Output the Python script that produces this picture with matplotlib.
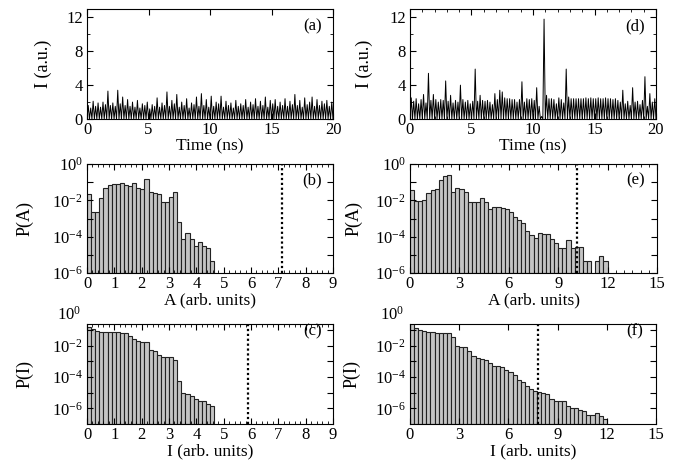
import numpy as np
import matplotlib.pyplot as plt
from matplotlib.ticker import MultipleLocator, NullLocator

plt.rcParams['font.family'] = ['Liberation Serif', 'DejaVu Serif']
plt.rcParams['mathtext.fontset'] = 'stix'
plt.rcParams['font.size'] = 13

# ---- data ----
pulse_dt = 0.2  # ns between pulses

# peak intensities, panel (a)
peaks_a = [1.6, 1.3, 2.1, 1.5, 1.9, 1.4, 2.0, 1.7, 3.3, 1.6,
           1.9, 1.5, 3.4, 1.8, 2.6, 1.6, 2.3, 1.5, 2.0, 1.4,
           2.2, 1.3, 1.8, 1.6, 2.0, 1.2, 1.7, 1.5, 2.5, 1.4,
           1.9, 1.6, 3.2, 1.5, 2.2, 1.8, 2.9, 1.4, 2.0, 1.6,
           2.4, 1.3, 1.9, 1.7, 2.6, 1.5, 3.0, 1.6, 2.3, 1.4,
           2.7, 1.5, 2.0, 1.8, 2.7, 1.4, 2.1, 1.6, 1.9, 1.3,
           2.2, 1.5, 1.8, 1.6, 2.3, 1.4, 2.0, 1.7, 2.4, 1.5,
           2.1, 1.6, 2.6, 1.4, 2.2, 1.8, 2.3, 1.5, 2.0, 1.6,
           2.4, 1.5, 2.1, 1.7, 2.9, 1.6, 2.2, 1.4, 2.5, 1.7,
           2.0, 2.6, 1.5, 2.3, 1.6, 2.1, 1.8, 2.2, 1.5, 2.0]

# peak intensities, panel (d)
peaks_d = [2.5, 2.1, 2.4, 1.8, 2.3, 2.9, 1.9, 5.4, 2.2, 2.9,
           2.3, 2.0, 2.3, 2.2, 4.5, 2.1, 2.8, 1.9, 2.2, 2.0,
           4.0, 2.3, 2.0, 2.2, 1.8, 2.1, 5.9, 2.1, 2.8, 2.2,
           2.1, 2.2, 2.0, 1.7, 3.0, 2.3, 3.4, 3.2, 2.5, 2.4,
           2.4, 2.3, 2.3, 2.0, 2.3, 4.4, 2.0, 2.4, 2.3, 2.4,
           2.2, 3.7, 1.5, 0.3, 11.8, 2.8, 2.4, 2.4, 2.3, 1.8,
           2.5, 2.3, 1.9, 5.9, 2.6, 2.4, 2.4, 2.4, 2.4, 2.4,
           2.4, 2.5, 2.4, 2.5, 2.4, 2.4, 2.5, 2.4, 2.4, 2.5,
           2.4, 2.4, 2.3, 2.4, 2.2, 2.0, 3.4, 1.8, 2.1, 1.6,
           3.7, 2.0, 2.1, 1.7, 2.2, 5.0, 1.5, 3.0, 2.0, 2.4]

# log10 of probability densities (histograms)
bin_b = 0.15
logP_b = [-1.67, -2.62, -2.62, -1.85, -1.30, -1.14, -1.10, -1.10, -1.06, -1.14,
          -1.21, -1.06, -1.34, -1.38, -0.84, -1.52, -1.58, -1.67, -2.11, -2.07,
          -1.83, -1.56, -3.17, -4.13, -3.82, -4.13, -4.50, -4.31, -4.50, -4.60,
          -5.34]
bin_c = 0.15
logP_c = [-0.79, -0.96, -1.06, -1.11, -1.11, -1.11, -1.13, -1.15, -1.17, -1.21,
          -1.39, -1.54, -1.71, -1.77, -1.77, -2.24, -2.35, -2.56, -2.73, -2.73,
          -2.73, -2.88, -4.23, -5.03, -5.09, -5.24, -5.39, -5.52, -5.52, -5.73,
          -5.88]
bin_e = 0.25
logP_e = [-1.43, -2.06, -2.06, -2.00, -1.61, -1.43, -1.39, -0.88, -0.64, -0.61,
          -1.52, -1.34, -1.38, -1.56, -2.11, -2.07, -2.07, -1.89, -2.11, -2.50,
          -2.35, -2.39, -2.44, -2.50, -2.62, -2.90, -3.08, -3.27, -3.67, -3.91,
          -4.09, -3.78, -3.85, -3.85, -4.15, -4.37, -4.64, -4.64, -4.18, -4.64,
          -4.59, -4.59, -5.34, -5.34, np.nan, -5.34, -5.05, -5.34]
bin_f = 0.25
logP_f = [-0.57, -0.85, -1.00, -1.06, -1.11, -1.13, -1.17, -1.17, -1.17, -1.17,
          -1.45, -1.99, -2.05, -2.09, -2.35, -2.67, -2.78, -2.82, -2.88, -3.10,
          -3.27, -3.31, -3.38, -3.53, -3.68, -3.85, -4.17, -4.34, -4.60, -4.77,
          -4.88, -4.96, -5.03, -5.09, -5.41, -5.50, -5.52, -5.56, -5.88, -5.95,
          -5.99, -6.10, -6.16, -6.42, -6.42, -6.27, -6.46, -6.70]

# thresholds (dotted lines)
thr_b = 7.15
thr_c = 5.9
thr_e = 10.12
thr_f = 7.8

W, H = 688, 467
fig = plt.figure(figsize=(W / 100, H / 100), dpi=100)
TICKFS = 12
LABFS = 12.5


def add_ax(left, top, right, bottom):
    return fig.add_axes([left / W, 1 - bottom / H, (right - left) / W, (bottom - top) / H])


def style(ax):
    ax.tick_params(which='both', direction='in', top=True, right=True, labelsize=TICKFS)
    ax.tick_params(axis='x', pad=2)
    ax.tick_params(axis='y', pad=3)
    ax.tick_params(which='major', length=4)
    ax.tick_params(which='minor', length=2.2)


def series(ax, peaks, label, xminor):
    peaks = np.asarray(peaks)
    n = len(peaks)
    t = np.empty(2 * n + 1)
    y = np.zeros(2 * n + 1)
    t[0::2] = np.arange(n + 1) * pulse_dt
    t[1::2] = np.arange(n) * pulse_dt + pulse_dt / 2
    y[1::2] = peaks
    ax.plot(t, y, color='k', lw=0.7)
    ax.set_xlim(0, 20)
    ax.set_ylim(0, 13)
    ax.set_xticks([0, 5, 10, 15, 20])
    ax.set_yticks([0, 4, 8, 12])
    ax.yaxis.set_minor_locator(MultipleLocator(2))
    if xminor:
        ax.xaxis.set_minor_locator(MultipleLocator(1))
    style(ax)
    ax.set_xlabel('Time (ns)', fontsize=LABFS)
    ax.set_ylabel('I (a.u.)')
    ax.text(0.915, 0.84, label, transform=ax.transAxes, ha='center', va='center', fontsize=TICKFS)


def hist(ax, logP, width, ymin_exp, ymax_exp, xmax, xmajor, xminor, thr, label, xl, yl, lab_y):
    logP = np.asarray(logP, dtype=float)
    edges = np.arange(len(logP)) * width
    bottom = 10.0 ** ymin_exp
    ok = ~np.isnan(logP)
    ax.bar(edges[ok], 10.0 ** logP[ok] - bottom, width=width, bottom=bottom, align='edge',
           color='#c4c4c4', edgecolor='#222222', linewidth=0.8)
    ax.set_yscale('log')
    ax.set_ylim(10.0 ** ymin_exp, 10.0 ** ymax_exp)
    ax.set_xlim(0, xmax)
    ax.set_xticks(np.arange(0, xmax + 0.01, xmajor))
    if xminor:
        ax.xaxis.set_minor_locator(MultipleLocator(xminor))
    else:
        ax.xaxis.set_minor_locator(NullLocator())
    dec = np.arange(0, -7, -1)
    ax.set_yticks(10.0 ** dec.astype(float))
    ax.set_yticklabels(['$\\mathdefault{10^{%d}}$' % d if d % 2 == 0 else '' for d in dec])
    ax.yaxis.set_minor_locator(NullLocator())
    ax.axvline(thr, color='k', lw=1.6, ls=(0, (1, 1.2)))
    style(ax)
    ax.set_xlabel(xl, fontsize=LABFS)
    ax.set_ylabel(yl)
    ax.text(0.915, lab_y, label, transform=ax.transAxes, ha='center', va='center', fontsize=TICKFS)


ax_a = add_ax(87, 9, 333, 119)
ax_d = add_ax(410, 9, 656, 119)
ax_b = add_ax(87, 164, 333, 273)
ax_e = add_ax(410, 164, 657, 273)
ax_c = add_ax(87, 324, 333, 424)
ax_f = add_ax(410, 324, 656, 424)

series(ax_a, peaks_a, '(a)', False)
series(ax_d, peaks_d, '(d)', True)

hist(ax_b, logP_b, bin_b, -6, 0, 9, 1, 0.2, thr_b, '(b)', 'A (arb. units)', 'P(A)', 0.85)
hist(ax_e, logP_e, bin_e, -6, 0, 15, 3, 0.5, thr_e, '(e)', 'A (arb. units)', 'P(A)', 0.85)
hist(ax_c, logP_c, bin_c, -7, -0.61, 9, 1, 0.2, thr_c, '(c)', 'I (arb. units)', 'P(I)', 0.93)
hist(ax_f, logP_f, bin_f, -7, -0.61, 15, 3, None, thr_f, '(f)', 'I (arb. units)', 'P(I)', 0.93)

# the 10^0 label that sits just above the lower panels
for ax in (ax_c, ax_f):
    ax.text(-0.025, 1.0, '$\\mathdefault{10^{0}}$', transform=ax.get_yaxis_transform(),
            ha='right', va='center', fontsize=TICKFS, clip_on=False)
    ax.set_ylim(1e-7, 10 ** -0.61)

# label positions (label centres)
ylab_x = {ax_a: -0.179, ax_d: -0.187, ax_b: -0.252, ax_e: -0.228, ax_c: -0.252, ax_f: -0.236}
for ax, x in ylab_x.items():
    ax.yaxis.label.set_verticalalignment('center')
    ax.yaxis.set_label_coords(x, 0.5)
xlab_y = {ax_a: -0.245, ax_d: -0.245, ax_b: -0.252, ax_e: -0.252, ax_c: -0.27, ax_f: -0.27}
for ax, y in xlab_y.items():
    ax.xaxis.label.set_verticalalignment('center')
    ax.xaxis.set_label_coords(0.5, y)

fig.savefig('out.png', dpi=100)
